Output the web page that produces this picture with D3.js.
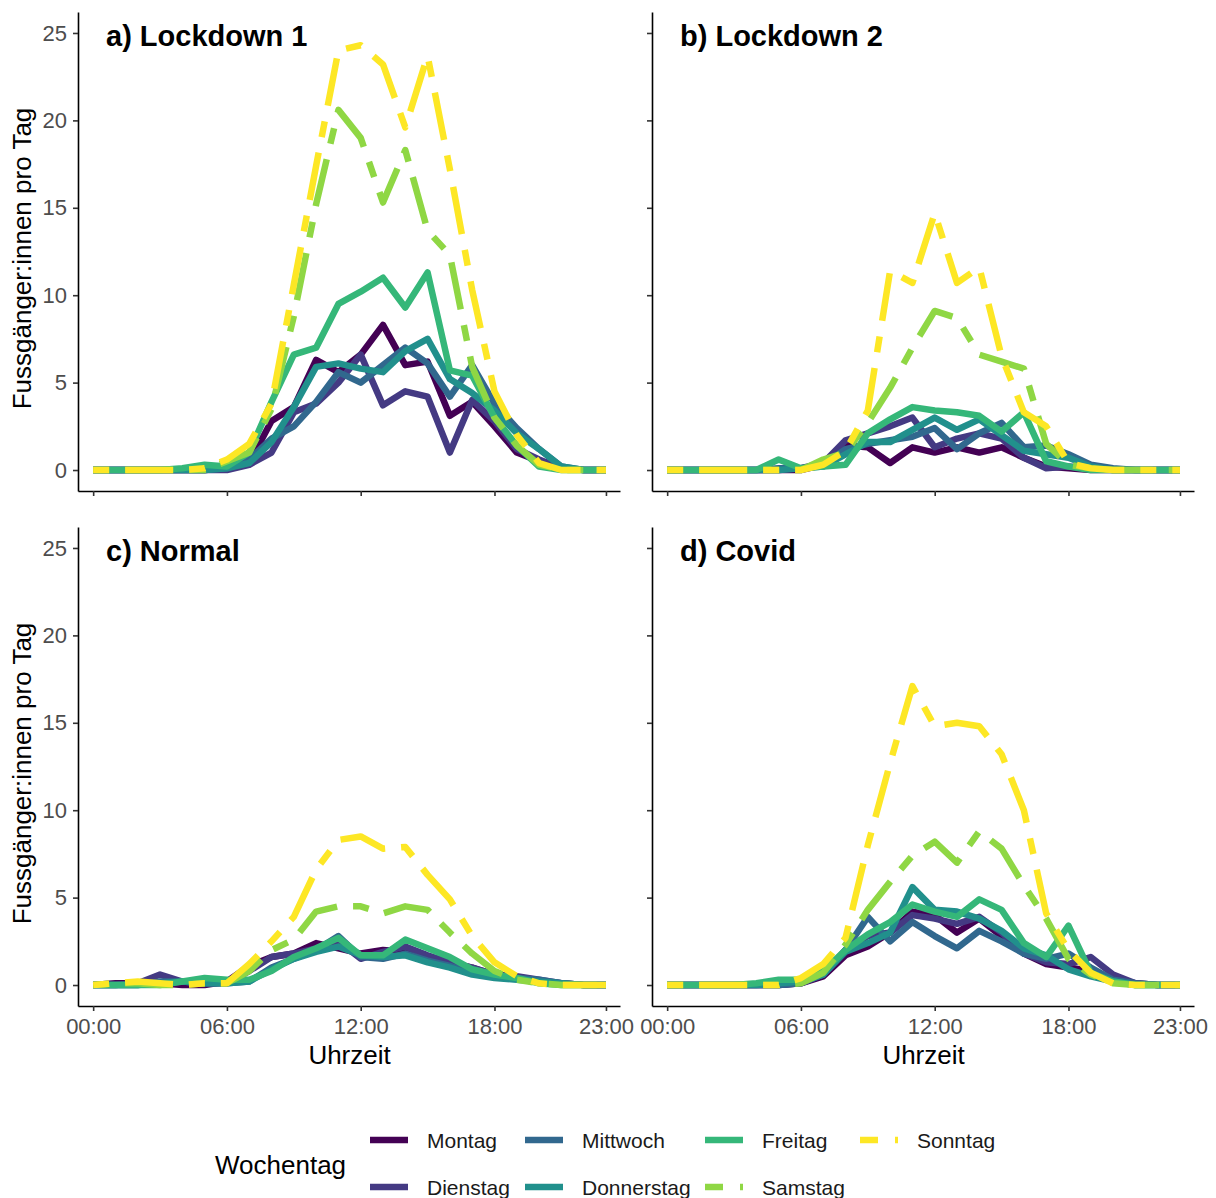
<!DOCTYPE html>
<html>
<head>
<meta charset="utf-8">
<script src="https://cdn.jsdelivr.net/npm/d3@7"></script>
<style>
  body { margin:0; background:#fff; }
  svg text { font-family: "Liberation Sans", Arial, sans-serif; }
</style>
</head>
<body>
<div id="canvas"></div>
<script>
//data: hourly values 00:00 - 23:00, one row per weekday (Montag ... Sonntag)
var hours = d3.range(0, 24);
var days = ['Montag','Dienstag','Mittwoch','Donnerstag','Freitag','Samstag','Sonntag'];
var hourTicks = [0, 6, 12, 18, 23];
var hourLabels = ['00:00','06:00','12:00','18:00','23:00'];
var yTicks = [0, 5, 10, 15, 20, 25];
var panelTitles = ['a) Lockdown 1','b) Lockdown 2','c) Normal','d) Covid'];

var lockdown1 = [
  [0,0,0,0,0,0,0.1,0.4,2.8,3.6,6.3,5.6,6.6,8.3,6.0,6.2,3.1,3.9,2.5,1.0,0.5,0.1,0,0],
  [0,0,0,0,0,0,0,0.3,1.0,3.3,3.8,5.0,6.6,3.7,4.5,4.2,1.0,4.0,2.8,1.2,0.6,0.1,0,0],
  [0,0,0,0,0,0,0.1,0.6,1.8,2.5,3.9,5.6,5.0,6.0,7.0,6.1,4.2,6.0,3.8,2.4,1.2,0.2,0,0],
  [0,0,0,0,0,0,0.1,0.4,1.6,3.6,5.9,6.1,5.8,5.6,6.8,7.5,5.2,4.4,3.4,2.1,1.2,0.2,0,0],
  [0,0,0,0,0.1,0.3,0.2,1.0,3.9,6.6,7.0,9.5,10.2,11.0,9.3,11.3,5.7,5.4,3.0,1.4,0.2,0,0,0],
  [0,0,0,0,0,0,0.5,1.0,3.5,8.8,15.2,20.6,19.0,15.3,18.3,13.7,12.3,5.9,3.0,1.4,0.3,0,0,0],
  [0,0,0,0,0,0.1,0.6,1.5,3.8,10.6,17.4,24.0,24.3,23.2,19.6,23.7,17.2,10.3,4.5,2.0,0.4,0,0,0]
];
var lockdown2 = [
  [0,0,0,0,0,0,0,0.3,1.4,1.3,0.4,1.3,1.0,1.3,1.0,1.3,0.7,0.2,0.1,0,0,0,0,0],
  [0,0,0,0,0,0,0.1,0.4,1.7,2.1,2.5,3.0,1.3,1.8,2.1,1.8,0.7,0.1,0.2,0.1,0,0,0,0],
  [0,0,0,0,0,0.1,0.1,0.3,1.2,1.5,1.7,1.9,2.4,1.2,2.1,2.7,1.3,1.4,0.9,0.3,0.1,0,0,0],
  [0,0,0,0,0,0,0.1,0.2,0.9,1.6,1.6,2.3,3.0,2.3,2.9,2.0,1.1,0.9,0.7,0.2,0,0,0,0],
  [0,0,0,0,0,0.6,0.1,0.2,0.3,2.1,2.9,3.6,3.4,3.3,3.1,2.2,3.3,0.5,0.2,0,0,0,0,0],
  [0,0,0,0,0,0,0,0.6,1.0,2.7,4.7,7.0,9.1,8.7,6.6,6.2,5.8,1.5,0.3,0.1,0,0,0,0],
  [0,0,0,0,0,0,0,0.3,1.1,3.4,11.4,10.7,14.7,10.7,11.6,6.5,3.3,2.5,0.4,0.1,0,0,0,0]
];
var normal = [
  [0,0.1,0.1,0.1,0,0,0.2,1.1,1.6,1.8,2.4,2.1,1.8,2.0,1.9,1.6,1.3,1.0,0.6,0.4,0.2,0.1,0,0],
  [0,0,0.1,0.6,0.2,0.1,0.1,0.8,1.6,1.8,2.1,2.5,1.5,1.9,2.2,1.7,1.3,1.0,0.6,0.5,0.3,0.1,0,0],
  [0,0,0,0.2,0.2,0.1,0.1,0.2,1.0,1.5,2.0,2.8,1.6,1.5,1.8,1.4,1.1,0.7,0.5,0.4,0.3,0.1,0,0],
  [0,0,0,0.1,0.2,0.1,0.1,0.2,0.9,1.5,1.9,2.2,1.7,1.6,1.7,1.3,1.0,0.6,0.4,0.3,0.2,0.1,0,0],
  [0,0,0,0,0.2,0.4,0.3,0.3,0.8,1.6,2.1,2.7,1.7,1.7,2.6,2.1,1.6,0.9,0.6,0.4,0.1,0,0,0],
  [0,0.1,0.1,0,0,0.1,0.1,0.8,2.0,2.6,4.2,4.5,4.5,4.1,4.5,4.3,3.0,1.8,0.8,0.3,0.1,0,0,0],
  [0,0.1,0.2,0.1,0,0.1,0.1,1.2,2.5,3.9,6.6,8.3,8.5,7.8,7.9,6.3,4.9,2.8,1.3,0.5,0.1,0,0,0]
];
var covid = [
  [0,0,0,0,0,0,0.1,0.5,1.7,2.2,3.0,4.2,4.0,3.0,3.8,2.8,1.8,1.2,1.0,0.8,0.3,0.1,0,0],
  [0,0,0,0,0,0,0.1,0.6,2.0,2.8,3.0,4.0,3.8,3.5,3.9,3.0,1.8,1.3,1.2,1.6,0.6,0.1,0,0],
  [0,0,0,0,0,0,0.1,0.6,2.0,3.9,2.5,3.6,2.8,2.1,3.1,2.5,1.8,1.5,1.8,1.0,0.3,0.1,0,0],
  [0,0,0,0,0,0.1,0.2,0.6,1.9,2.4,3.0,5.6,4.3,4.2,3.8,3.1,2.1,1.7,0.9,0.5,0.2,0,0,0],
  [0,0,0,0,0.1,0.3,0.3,0.8,2.0,2.9,3.6,4.6,4.2,3.9,4.9,4.3,2.4,1.6,3.4,0.7,0.2,0,0,0],
  [0,0,0,0,0,0,0.1,0.7,2.3,4.3,5.9,7.4,8.2,7.0,8.8,7.8,5.7,3.8,1.5,0.6,0.1,0,0,0],
  [0,0,0,0,0,0,0.4,1.2,2.7,8.0,12.7,17.1,14.8,15.0,14.8,13.2,10.0,4.1,2.0,0.7,0.1,0,0,0]
];
var panelData = [lockdown1, lockdown2, normal, covid];

//styles
var colors = ['#440154','#443A83','#31688E','#21908C','#35B779','#8FD744','#FDE725'];
var dashes = [null,null,null,null,null,'16,16,48,16','16,16,48,16'];

var W = 1216, H = 1198;
var svg = d3.select('#canvas').append('svg')
  .attr('width', W).attr('height', H);

// panel boxes (pixel extents of each facet)
var panels = [
  {x0:78,  x1:620,  y0:12,  y1:491,  xlab:false, ylab:true},
  {x0:652, x1:1194, y0:12,  y1:491,  xlab:false, ylab:false},
  {x0:78,  x1:620,  y0:527, y1:1006, xlab:true,  ylab:true},
  {x0:652, x1:1194, y0:527, y1:1006, xlab:true,  ylab:false}
];

var line = d3.line();

panels.forEach(function(p, i){
  var scaleX = d3.scaleLinear().domain([-0.68, 23.63]).range([p.x0, p.x1]);
  var scaleY = d3.scaleLinear().domain([-1.2, 26.2]).range([p.y1, p.y0]);

  var g = svg.append('g');

  // lines, Montag first so Sonntag sits on top
  panelData[i].forEach(function(vals, k){
    line.x(function(d, j){ return scaleX(hours[j]); })
        .y(function(d){ return scaleY(d); });
    g.append('path')
      .attr('d', line(vals))
      .attr('fill', 'none')
      .attr('stroke', colors[k])
      .attr('stroke-width', 6.5)
      .attr('stroke-linejoin', 'round')
      .attr('stroke-dasharray', dashes[k]);
  });

  // axes
  var axisY = d3.axisLeft(scaleY).tickValues(yTicks).tickSize(5).tickSizeOuter(0).tickPadding(6);
  var axisX = d3.axisBottom(scaleX).tickValues(hourTicks).tickSize(5).tickSizeOuter(0).tickPadding(7)
    .tickFormat(function(d, j){ return hourLabels[j]; });

  var ay = g.append('g').attr('transform', 'translate(' + p.x0 + ',0)').call(axisY);
  var ax = g.append('g').attr('transform', 'translate(0,' + p.y1 + ')').call(axisX);

  [ax, ay].forEach(function(a){
    a.select('.domain').attr('stroke', '#000').attr('stroke-width', 1.6);
    a.selectAll('.tick line').attr('stroke', '#333').attr('stroke-width', 1.6);
    a.selectAll('.tick text').attr('fill', '#4D4D4D').style('font-size', '22px');
  });
  if(!p.ylab) ay.selectAll('.tick text').remove();
  if(!p.xlab) ax.selectAll('.tick text').remove();

  // facet title
  g.append('text')
    .attr('x', p.x0 + 28).attr('y', p.y0 + 34)
    .style('font-size', '29px').style('font-weight', 'bold')
    .text(panelTitles[i]);

  if(p.ylab){
    g.append('text')
      .attr('transform', 'translate(31,' + ((p.y0 + p.y1) / 2 + 7) + ') rotate(-90)')
      .attr('text-anchor', 'middle')
      .style('font-size', '26px')
      .text('Fussgänger:innen pro Tag');
  }
  if(p.xlab){
    g.append('text')
      .attr('x', (scaleX(0) + scaleX(23)) / 2).attr('y', 1064)
      .attr('text-anchor', 'middle')
      .style('font-size', '26px')
      .text('Uhrzeit');
  }
});

// legend
var legend = svg.append('g');
legend.append('text')
  .attr('x', 215).attr('y', 1174)
  .style('font-size', '26px')
  .text('Wochentag');

var colX = [370, 525, 705, 860];
var rowY = [1140, 1187];
days.forEach(function(d, k){
  var cx = colX[Math.floor(k / 2)], cy = rowY[k % 2];
  legend.append('line')
    .attr('x1', cx).attr('x2', cx + 38)
    .attr('y1', cy).attr('y2', cy)
    .attr('stroke', colors[k])
    .attr('stroke-width', 6.5)
    .attr('stroke-dasharray', dashes[k] ? '18,17,48,16' : null);
  legend.append('text')
    .attr('x', cx + 57).attr('y', cy + 8)
    .style('font-size', '21px')
    .attr('fill', '#1a1a1a')
    .text(d);
});
</script>
</body>
</html>
